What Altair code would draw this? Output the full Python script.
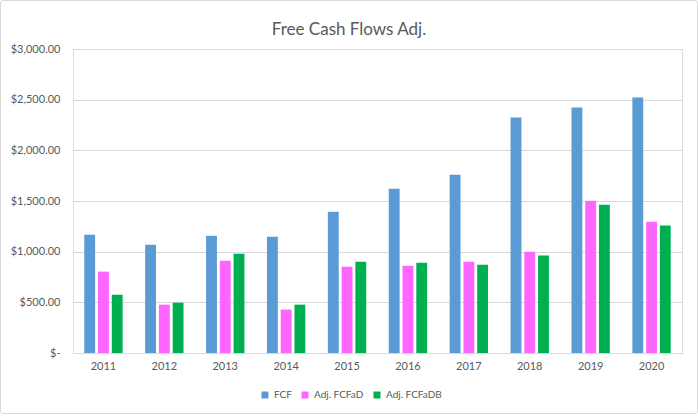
import altair as alt
import pandas as pd

years = ["2011", "2012", "2013", "2014", "2015", "2016", "2017", "2018", "2019", "2020"]
series_names = ["FCF", "Adj. FCFaD", "Adj. FCFaDB"]
fcf = [1168, 1069, 1158, 1148, 1395, 1622, 1760, 2323, 2422, 2521]
adj_fcfad = [803, 477, 911, 428, 852, 862, 901, 1000, 1503, 1296]
adj_fcfadb = [575, 497, 980, 477, 901, 891, 872, 961, 1464, 1257]
colors = ["#5B9BD5", "#FF66FF", "#00B050"]
title_text = "Free Cash Flows Adj."

rows = []
for name, vals in zip(series_names, [fcf, adj_fcfad, adj_fcfadb]):
    for y, v in zip(years, vals):
        rows.append({"Year": y, "Series": name, "Value": v})
df = pd.DataFrame(rows)

FONT = "Lato"
GRAY = "#595959"
W, H = 609, 304
PL, PT, PR, PB = 73, 49, 16, 63

bars = alt.Chart(df).mark_bar().encode(
    x=alt.X("Year:N", sort=years, title=None,
            scale=alt.Scale(paddingInner=0.37, paddingOuter=0.185),
            axis=alt.Axis(labelAngle=0, ticks=False, domain=True, domainColor="#D9D9D9",
                          labelPadding=7, labelFont=FONT, labelFontSize=11, labelColor=GRAY,
                          grid=False)),
    xOffset=alt.XOffset("Series:N", sort=series_names,
                        scale=alt.Scale(paddingInner=0.21, paddingOuter=0)),
    y=alt.Y("Value:Q", title=None,
            scale=alt.Scale(domain=[0, 3000], nice=False),
            axis=alt.Axis(values=[0, 500, 1000, 1500, 2000, 2500, 3000], domain=False, ticks=False,
                          gridColor="#D9D9D9", gridWidth=1, labelPadding=13,
                          labelFont=FONT, labelFontSize=11, labelColor=GRAY,
                          labelExpr="datum.value == 0 ? '$-\u00a0\u00a0\u00a0\u00a0' : '$' + format(datum.value, ',.2f')")),
    color=alt.Color("Series:N", sort=series_names,
                    scale=alt.Scale(domain=series_names, range=colors),
                    legend=alt.Legend(title=None, orient="none", direction="horizontal",
                                      legendX=187, legendY=341,
                                      symbolType="square", symbolSize=49, symbolStrokeWidth=0,
                                      labelFont=FONT, labelFontSize=10, labelColor=GRAY,
                                      columnPadding=8, labelOffset=4)),
)

one = pd.DataFrame({"k": [0]})

border = alt.Chart(one).mark_rect(
    fill=None, stroke="#D9D9D9", strokeWidth=1, cornerRadius=2
).encode(
    x=alt.value(-PL + 0.5), x2=alt.value(W + PR - 0.5),
    y=alt.value(-PT + 0.5), y2=alt.value(H + PB - 2.5),
)

title = alt.Chart(one).mark_text(
    text=title_text, font=FONT, fontSize=17, color=GRAY, align="center", baseline="middle"
).encode(x=alt.value(349 - PL), y=alt.value(30 - PT))

chart = alt.layer(border, bars, title).properties(
    width=W, height=H,
    autosize=alt.AutoSizeParams(type="none"),
    padding={"left": PL, "top": PT, "right": PR, "bottom": PB},
).configure_view(stroke=None).configure(background="white")

chart.save("out.html", embed_options={"renderer": "svg", "actions": False})
